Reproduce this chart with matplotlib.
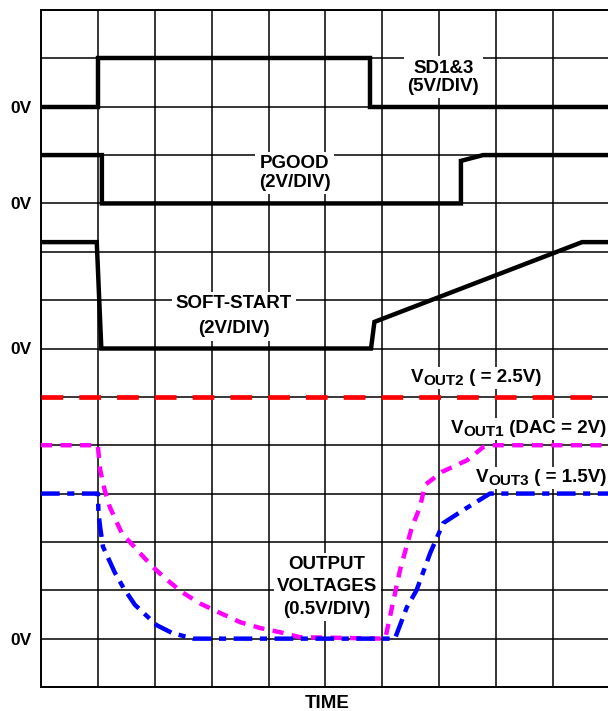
import matplotlib
matplotlib.use("Agg")
import matplotlib.pyplot as plt
from matplotlib.patches import Rectangle
from matplotlib.transforms import offset_copy, IdentityTransform

plt.rcParams["font.family"] = ["Liberation Sans", "DejaVu Sans"]
plt.rcParams["font.weight"] = "bold"

# Grid divisions (x: time, y: screen divisions from bottom)
x_divs = list(range(0, 11))
y_divs = list(range(0, 15))
y_labels = ["", "0V", "", "", "", "", "", "0V", "", "", "0V", "", "0V", "", ""]

# SD1&3 trace
sd_x = [0, 1.0, 1.0, 5.78, 5.78, 10]
sd_y = [12, 12, 13, 13, 12, 12]

# PGOOD trace
pgood_x = [0, 1.07, 1.07, 7.38, 7.38, 7.77, 10]
pgood_y = [11, 11, 10, 10, 10.88, 11, 11]

# SOFT-START trace
ss_x = [0, 0.98, 1.06, 5.80, 5.86, 9.51, 10]
ss_y = [9.2, 9.2, 7.0, 7.0, 7.55, 9.2, 9.2]

# VOUT2 (red dashed)
vout2_x = [0, 10]
vout2_y = [6, 6]

# VOUT1 (magenta dotted)
vout1_x = [0, 1.0, 1.01, 1.04, 1.12, 1.21, 1.42, 1.95, 2.18, 2.48, 2.79, 3.15, 3.5, 3.85,
           4.25, 4.55, 6.05, 6.31, 6.52, 6.66, 6.75, 7.05, 7.49, 7.77, 7.89, 10]
vout1_y = [5, 5, 4.85, 4.49, 4.07, 3.72, 3.18, 2.5, 2.25, 1.96, 1.73, 1.53, 1.34, 1.22,
           1.12, 1.03, 1.0, 2.42, 3.31, 3.72, 4.18, 4.45, 4.69, 4.96, 5, 5]

# VOUT3 (blue dash-dot)
vout3_x = [0, 1.0, 1.01, 1.04, 1.09, 1.3, 1.45, 1.65, 2.03, 2.3, 2.67, 6.22, 6.43, 6.6,
           6.84, 7.07, 7.45, 7.89, 10]
vout3_y = [4, 4, 3.6, 3.3, 2.9, 2.36, 2.05, 1.7, 1.28, 1.12, 1.0, 1.0, 1.65, 2.0,
           2.77, 3.39, 3.68, 4.0, 4]


fig = plt.figure(figsize=(6.08, 7.11), dpi=100)
ax = fig.add_axes([41 / 608, 24 / 711, 569 / 608, 677 / 711])
ax.set_xlim(0, 10)
ax.set_ylim(0, 14)

ax.set_xticks(x_divs)
ax.set_xticklabels([])
ax.set_yticks(y_divs)
ax.set_yticklabels(y_labels, fontsize=12.5, fontweight="bold")
ax.tick_params(length=0, pad=7)
ax.grid(True, color="black", linewidth=1.1, zorder=1)
ax.set_axisbelow(True)
for s in ax.spines.values():
    s.set_linewidth(1.4)

fig.text(327 / 608, 1 - 703 / 711, "TIME", ha="center", va="center",
         fontsize=13.5, fontweight="bold")

ax.plot(sd_x, sd_y, color="black", lw=3.2, zorder=3, solid_joinstyle="miter")
ax.plot(pgood_x, pgood_y, color="black", lw=3.2, zorder=3, solid_joinstyle="miter")
ax.plot(ss_x, ss_y, color="black", lw=3.2, zorder=3, solid_joinstyle="miter")

ax.plot(vout2_x, vout2_y, color="#ff0000", lw=3.4, zorder=3, dashes=(4.6, 3.4))
ax.plot(vout1_x, vout1_y, color="#ff00ff", lw=3.2, zorder=3, dashes=(2.5, 1.9))
ax.plot(vout3_x, vout3_y, color="#0000ff", lw=3.2, zorder=3,
        dashes=(4.2, 1.7, 1.6, 1.7))

box = dict(facecolor="white", edgecolor="none", pad=2.5)
kw = dict(ha="center", va="center", fontsize=13.5, fontweight="bold", zorder=2, bbox=box)

ax.text(7.07, 12.61, "SD1&3\n(5V/DIV)", linespacing=1.1, **kw)
ax.text(4.46, 10.63, "PGOOD\n(2V/DIV)", linespacing=1.1, **kw)
ax.text(3.39, 7.67, "SOFT-START\n(2V/DIV)", linespacing=1.6, **kw)
ax.text(5.03, 2.07, "OUTPUT\nVOLTAGES\n(0.5V/DIV)", linespacing=1.4, **kw)


# V with a large subscript, centred on x, baseline at y
renderer = fig.canvas.get_renderer()


def text_width(s, size):
    t = ax.text(0, 0, s, fontsize=size, fontweight="bold")
    w = t.get_window_extent(renderer).width
    t.remove()
    return w


def vout_label(x, y, sub, rest):
    pieces = [("V", 13.5, 0), (sub, 11, -3), (rest, 13.5, 0)]
    widths = [text_width(p, fs) for p, fs, _ in pieces]
    total = sum(widths)
    # white mask behind the whole label (display pixels)
    px, py = ax.transData.transform((x, y))
    ax.add_patch(Rectangle((px - total / 2 - 2, py - 7), total + 4, 22,
                           transform=IdentityTransform(), facecolor="white",
                           edgecolor="none", zorder=2, clip_on=False))
    dx = -total / 2
    for (p, fs, dy), w in zip(pieces, widths):
        tr = offset_copy(ax.transData, fig=fig, x=dx, y=dy, units="dots")
        ax.text(x, y, p, transform=tr, fontsize=fs, fontweight="bold", ha="left",
                va="baseline", zorder=2.5, clip_on=False)
        dx += w


vout_label(7.64, 6.31, "OUT2", " ( = 2.5V)")
vout_label(8.57, 5.25, "OUT1", " (DAC = 2V)")
vout_label(8.79, 4.24, "OUT3", " ( = 1.5V)")

fig.savefig("out.png", dpi=100)
